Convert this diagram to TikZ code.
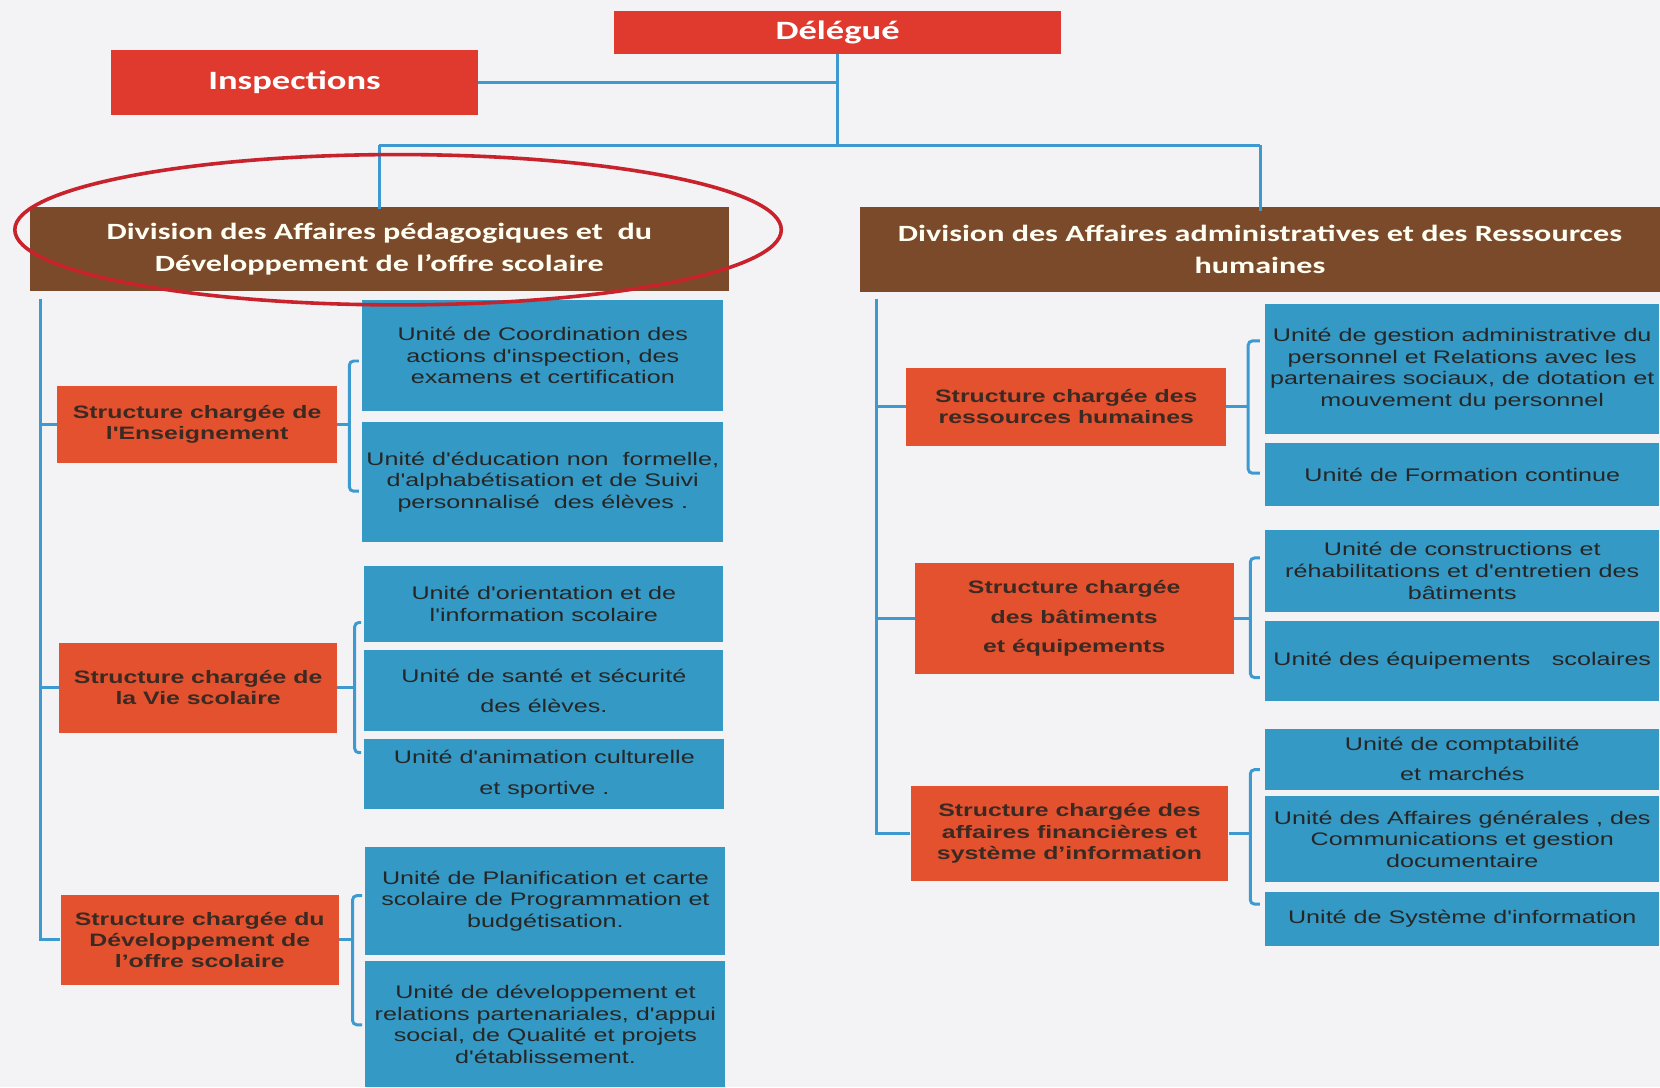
\documentclass[tikz,border=0pt]{standalone}
\usepackage{fontspec}
\newfontfamily\hdfont[FakeStretch=1.38]{Carlito}
\newfontfamily\arfont[FakeStretch=1.38]{Liberation Sans}
\definecolor{bgc}{HTML}{F3F3F5}
\definecolor{topred}{HTML}{E03A2E}
\definecolor{strred}{HTML}{E4512F}
\definecolor{divbrown}{HTML}{7A4A2A}
\definecolor{unitblue}{HTML}{3499C4}
\definecolor{linkblue}{HTML}{3C9AD0}
\definecolor{ringred}{HTML}{C8232D}
\definecolor{strtext}{HTML}{3A2A22}
\definecolor{unittext}{HTML}{262626}
\begin{document}
\begin{tikzpicture}[x=1pt,y=-1pt,
  box/.style={inner sep=0pt, anchor=north west, align=center},
  head/.style={box, fill=topred, text=white, font=\hdfont\bfseries\fontsize{25}{30}\selectfont},
  division/.style={box, fill=divbrown, text=white!95!yellow, font=\hdfont\bfseries\fontsize{22}{30}\selectfont},
  struct/.style={box, fill=strred, text=strtext, font=\arfont\bfseries\fontsize{17}{20}\selectfont},
  unit/.style={box, fill=unitblue, text=unittext, font=\arfont\fontsize{17.2}{20.5}\selectfont},
  conn/.style={draw=linkblue, line width=2.8pt},
  brace/.style={conn, rounded corners=4pt}]
\fill[bgc] (0,0) rectangle (1568,1027);
\useasboundingbox (0,0) rectangle (1568,1027);

% top level
\node[head, minimum width=422pt, minimum height=41pt] (deleg) at (580,10) {Délégué};
\node[head, minimum width=346pt, minimum height=61pt] (insp) at (105,47) {Inspections};

% divisions
\node[division, minimum width=660pt, minimum height=80pt] (div1) at (28,195)
  {Division des Affaires pédagogiques et~ du\\Développement de l’offre scolaire};
\node[division, minimum width=756pt, minimum height=81pt] (div2) at (812,195)
  {Division des Affaires administratives et des Ressources\\humaines};

% structures, left division
\node[struct, minimum width=264pt, minimum height=73pt] (sens) at (54,364)
  {Structure chargée de\\l'Enseignement};
\node[struct, minimum width=262pt, minimum height=85pt] (svie) at (56,607)
  {Structure chargée de\\la Vie scolaire};
\node[struct, minimum width=263pt, minimum height=85pt] (sdev) at (57,845)
  {Structure chargée du\\Développement de\\l’offre scolaire};

% units, left division
\node[unit, minimum width=341pt, minimum height=105pt] (u1) at (342,283)
  {Unité de Coordination des\\actions d'inspection, des\\examens et certification};
\node[unit, minimum width=341pt, minimum height=114pt] (u2) at (342,398)
  {Unité d'éducation non~ formelle,\\d'alphabétisation et de Suivi\\personnalisé~ des élèves .};
\node[unit, minimum width=339pt, minimum height=72pt] (u3) at (344,534)
  {Unité d'orientation et de\\l'information scolaire};
\node[unit, minimum width=339pt, minimum height=76pt] (u4) at (344,614)
  {Unité de santé et sécurité\\[8pt]des élèves.};
\node[unit, minimum width=340pt, minimum height=66pt] (u5) at (344,698)
  {Unité d'animation culturelle\\[8pt]et sportive .};
\node[unit, minimum width=340pt, minimum height=102pt] (u6) at (345,800)
  {Unité de Planification et carte\\scolaire de Programmation et\\budgétisation.};
\node[unit, minimum width=340pt, minimum height=119pt] (u7) at (345,908)
  {Unité de développement et\\relations partenariales, d'appui\\social, de Qualité et projets\\d'établissement.};

% structures, right division
\node[struct, minimum width=302pt, minimum height=74pt] (srh) at (856,347)
  {Structure chargée des\\ressources humaines};
\node[struct, minimum width=301pt, minimum height=104pt] (sbat) at (864,532)
  {Structure chargée\\[8pt]des bâtiments\\[8pt]et équipements};
\node[struct, minimum width=300pt, minimum height=90pt] (sfin) at (860,742)
  {Structure chargée des\\affaires financières et\\système d’information};

% units, right division
\node[unit, minimum width=372pt, minimum height=123pt] (r1) at (1195,287)
  {Unité de gestion administrative du\\personnel et Relations avec les\\partenaires sociaux, de dotation et\\mouvement du personnel};
\node[unit, minimum width=372pt, minimum height=60pt] (r2) at (1195,418)
  {Unité de Formation continue};
\node[unit, minimum width=372pt, minimum height=78pt] (r3) at (1195,500)
  {Unité de constructions et\\réhabilitations et d'entretien des\\bâtiments};
\node[unit, minimum width=372pt, minimum height=76pt] (r4) at (1195,586)
  {Unité des équipements\hspace{0.8em} scolaires};
\node[unit, minimum width=372pt, minimum height=58pt] (r5) at (1195,688)
  {Unité de comptabilité\\[8pt]et marchés};
\node[unit, minimum width=372pt, minimum height=81pt] (r6) at (1195,752)
  {Unité des Affaires générales , des\\Communications et gestion\\documentaire};
\node[unit, minimum width=372pt, minimum height=51pt] (r7) at (1195,842)
  {Unité de Système d'information};

% top links
\coordinate (hub) at (deleg.south |- 0,137);
\draw[conn] (deleg.south) -- (hub);
\draw[conn] (insp.east) -- (insp.east -| deleg.south);
\draw[conn] (div1.north |- hub) -- (div2.north |- hub);
\draw[conn] (div1.north |- hub) -- ([yshift=-2pt]div1.north);
\draw[conn] (div2.north |- hub) -- ([yshift=-4pt]div2.north);

% main spines
\coordinate (lsp) at (38,282);
\draw[conn] (lsp) |- (sdev.west);
\draw[conn] (sens.west) -- (sens.west -| lsp);
\draw[conn] (svie.west) -- (svie.west -| lsp);
\coordinate (rsp) at (828,282);
\draw[conn] (rsp) |- (sfin.west);
\draw[conn] (srh.west) -- (srh.west -| rsp);
\draw[conn] (sbat.west) -- (sbat.west -| rsp);

% brackets from each structure to its units
\coordinate (b1t) at (330,341); \coordinate (b1b) at (330,464);
\draw[brace] ([xshift=-3pt]u1.west |- b1t) -- (b1t) -- (b1b) -- ([xshift=-3pt]u2.west |- b1b);
\draw[conn] (sens.east) -- (sens.east -| b1t);

\coordinate (b2t) at (335,588); \coordinate (b2b) at (335,711);
\draw[brace] ([xshift=-3pt]u3.west |- b2t) -- (b2t) -- (b2b) -- ([xshift=-3pt]u5.west |- b2b);
\draw[conn] (svie.east) -- (svie.east -| b2t);

\coordinate (b3t) at (333,846); \coordinate (b3b) at (333,968);
\draw[brace] ([xshift=-3pt]u6.west |- b3t) -- (b3t) -- (b3b) -- ([xshift=-3pt]u7.west |- b3b);
\draw[conn] (sdev.east) -- (sdev.east -| b3t);

\coordinate (b4t) at (1179,322); \coordinate (b4b) at (1179,447);
\draw[brace] ([xshift=-5pt]r1.west |- b4t) -- (b4t) -- (b4b) -- ([xshift=-5pt]r2.west |- b4b);
\draw[conn] (srh.east) -- (srh.east -| b4t);

\coordinate (b5t) at (1181,527); \coordinate (b5b) at (1181,640);
\draw[brace] ([xshift=-5pt]r3.west |- b5t) -- (b5t) -- (b5b) -- ([xshift=-5pt]r4.west |- b5b);
\draw[conn] (sbat.east) -- (sbat.east -| b5t);

\coordinate (b6t) at (1181,727); \coordinate (b6b) at (1181,854);
\draw[brace] ([xshift=-5pt]r5.west |- b6t) -- (b6t) -- (b6b) -- ([xshift=-5pt]r7.west |- b6b);
\draw[conn] (sfin.east) -- (sfin.east -| b6t);

% highlight ring around the first division
\draw[ringred, line width=3.4pt] (376,217) ellipse [x radius=362, y radius=71];
\end{tikzpicture}
\end{document}
